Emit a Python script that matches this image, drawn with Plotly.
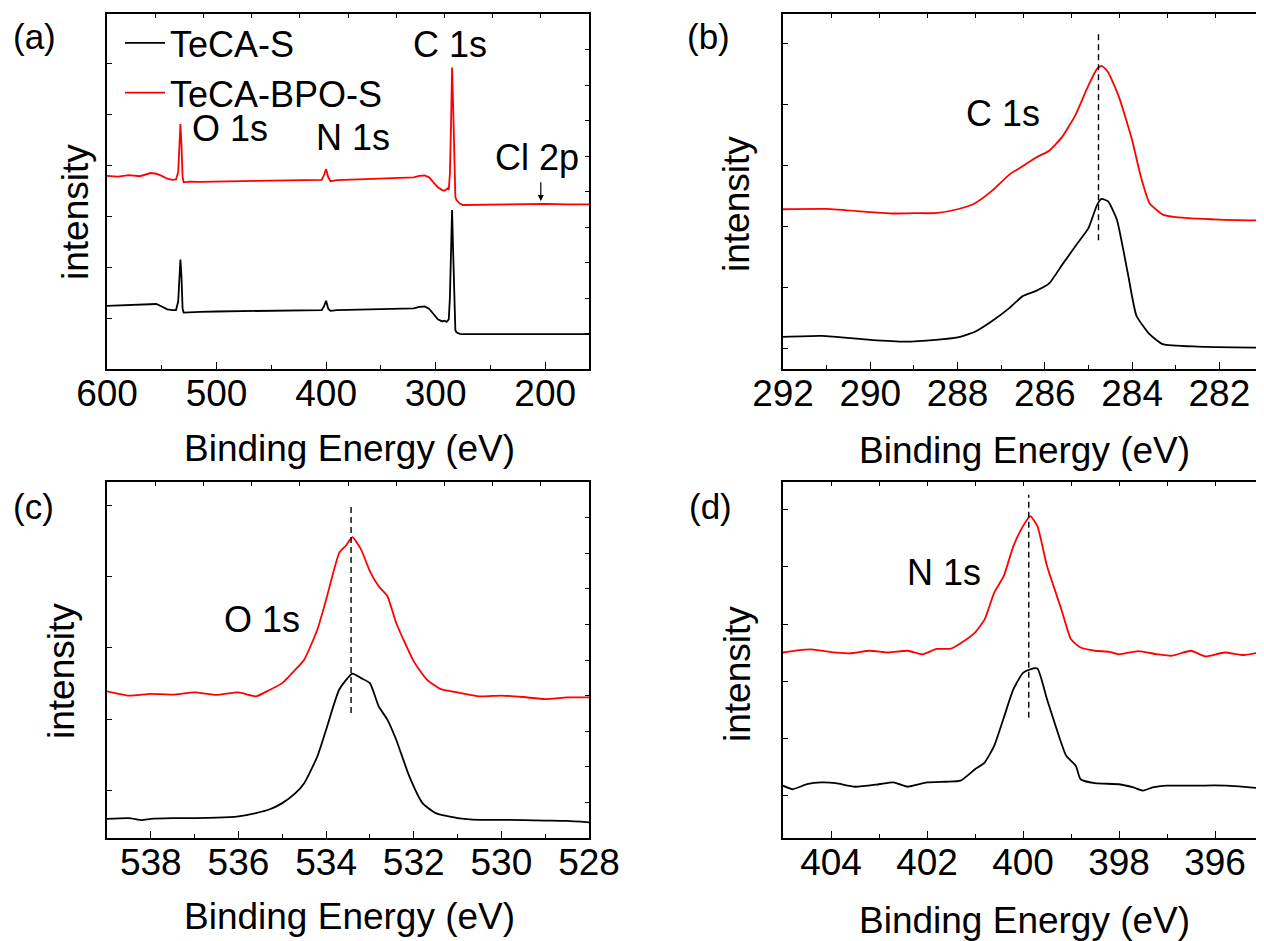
import plotly.graph_objects as go

# ---------------- data ----------------
# (a) survey spectra
a_x = [600, 590, 580, 570, 560, 555, 550, 545, 540, 537, 535, 534, 533, 532, 531, 530,
       525, 515, 500, 480, 460, 440, 420, 410, 404, 402, 400, 398, 396, 390, 370, 350,
       330, 320, 315, 310, 306, 302, 298, 294, 292, 290, 289, 288, 287, 286, 285, 284,
       283, 282, 281, 278, 275, 260, 240, 220, 200, 180, 160]
a_red = [54.4, 54.2, 54.6, 54.3, 55.2, 55.0, 54.4, 53.6, 53.3, 53.4, 55.5, 62.0, 69.0, 63.0, 54.0, 52.6,
         52.8, 52.7, 52.8, 52.9, 53.0, 53.2, 53.3, 53.4, 53.3, 54.5, 56.3, 54.0, 52.9, 53.2, 53.4, 53.6,
         53.8, 54.0, 54.4, 54.5, 54.0, 52.5, 51.2, 50.4, 50.2, 50.6, 50.9, 50.5, 55.0, 68.0, 84.9, 74.0,
         56.0, 48.5, 47.6, 46.6, 46.2, 46.3, 46.3, 46.4, 46.5, 46.4, 46.4]
a_black = [17.8, 17.9, 18.0, 18.2, 18.4, 18.3, 17.6, 16.8, 16.6, 16.6, 19.0, 25.0, 30.8, 26.0, 17.0, 15.9,
           16.0, 16.1, 16.2, 16.3, 16.4, 16.6, 16.7, 16.7, 16.6, 17.6, 19.2, 17.0, 16.4, 16.6, 16.7, 16.9,
           17.0, 17.1, 17.5, 17.6, 17.0, 15.5, 14.0, 13.4, 13.6, 13.3, 13.8, 14.0, 20.0, 34.0, 44.8, 33.0,
           17.0, 11.0, 10.3, 9.9, 9.85, 9.85, 9.85, 9.85, 9.85, 9.85, 9.85]

# (b) C 1s
b_x_red = [292, 291, 290, 289.5, 289, 288.5, 288, 287.6, 287.2, 286.8, 286.5, 286.2, 285.9, 285.6,
           285.3, 285.0, 284.8, 284.7, 284.55, 284.3, 284.0, 283.8, 283.6, 283.3, 283.0, 282.0, 281]
b_red = [45.0, 45.1, 44.2, 43.8, 43.9, 43.9, 45.0, 46.7, 50.3, 54.9, 57.2, 59.6, 61.5, 65.4,
         71.5, 79.9, 84.6, 85.4, 83.6, 76.6, 64.5, 54.2, 46.7, 43.5, 42.8, 42.1, 41.8]
b_x_black = [292, 291.1, 290, 289.2, 288.5, 288.0, 287.6, 287.2, 286.8, 286.5, 286.2, 285.9, 285.6,
             285.3, 285.0, 284.8, 284.7, 284.55, 284.35, 284.1, 283.9, 283.6, 283.3, 282.5, 281]
b_black = [9.07, 9.35, 8.2, 7.7, 8.2, 8.9, 10.5, 13.6, 17.3, 20.6, 22.0, 24.1, 29.4,
           34.6, 39.7, 46.3, 47.9, 47.2, 42.1, 27.1, 15.0, 9.8, 7.0, 6.3, 6.0]

# (c) O 1s
c_x_red = [539, 538.5, 538, 537.5, 537, 536.5, 536, 535.6, 535.4, 535.0, 534.7, 534.5, 534.2, 534.0,
           533.7, 533.55, 533.4, 533.2, 533.0, 532.8, 532.6, 532.4, 532.0, 531.7, 531.4, 531.0,
           530.5, 530, 529.5, 529, 528.5, 528]
c_red = [41.2, 40.0, 40.5, 40.3, 40.9, 40.2, 40.9, 39.8, 40.9, 43.5, 47.3, 50.1, 58.5, 66.9,
         80.1, 82.1, 84.5, 81.0, 74.9, 70.7, 67.9, 60.4, 49.6, 44.5, 41.9, 40.9,
         39.8, 40.0, 39.6, 39.0, 39.5, 39.5]
c_x_black = [539, 538.5, 538.2, 538, 537.5, 537, 536.5, 536, 535.6, 535.3, 535.0, 534.7, 534.5, 534.2,
             534.0, 533.7, 533.4, 533.2, 533.0, 532.8, 532.6, 532.4, 532.1, 531.8, 531.5, 531.0,
             530.5, 530, 529, 528.5, 528]
c_black = [5.4, 5.6, 5.0, 5.4, 5.6, 5.6, 5.7, 6.1, 7.0, 8.0, 9.8, 12.6, 15.4, 22.9,
           30.4, 41.7, 46.2, 44.9, 43.5, 37.0, 33.2, 27.6, 17.3, 9.8, 7.0, 5.6,
           5.1, 5.1, 4.9, 4.8, 4.4]

# (d) N 1s
d_x_red = [405, 404.7, 404.4, 404, 403.6, 403.2, 402.8, 402.4, 402.1, 401.8, 401.5, 401.3, 401.0,
           400.8, 400.6, 400.4, 400.2, 400.0, 399.85, 399.7, 399.5, 399.2, 399.0, 398.8, 398.5,
           398.2, 398.0, 397.6, 397.2, 396.9, 396.5, 396.2, 395.8, 395.4, 395]
d_red = [52.1, 52.7, 53.0, 52.2, 51.9, 52.6, 52.1, 52.6, 51.6, 53.1, 53.2, 54.7, 57.7,
         61.4, 68.9, 73.6, 82.0, 87.6, 90.4, 87.6, 76.4, 64.2, 55.8, 53.5, 52.6,
         52.3, 51.6, 52.5, 51.6, 51.2, 52.6, 51.0, 52.1, 51.4, 52.3]
d_x_black = [405, 404.8, 404.5, 404.2, 403.9, 403.5, 403.0, 402.7, 402.4, 402.0, 401.6, 401.3, 401.0,
             400.8, 400.6, 400.4, 400.2, 400.0, 399.85, 399.7, 399.5, 399.3, 399.1, 398.9, 398.8,
             398.5, 398.0, 397.7, 397.5, 397.3, 397.0, 396.5, 396.0, 395.5, 395.0]
d_black = [14.7, 13.7, 15.1, 15.6, 15.4, 14.4, 15.1, 15.6, 14.4, 15.6, 15.8, 16.1, 19.3,
           21.2, 25.9, 33.8, 41.8, 46.4, 47.4, 47.6, 39.0, 30.6, 23.1, 20.3, 16.5,
           15.4, 15.1, 14.2, 13.3, 14.2, 14.7, 14.7, 14.8, 14.5, 13.9]

# dashed peak markers: (x, y_bottom, y_top) per panel b, c, d
peak_b = [284.77, 36.3, 94.7]
peak_c = [533.43, 35.1, 94.1]
peak_d = [399.88, 33.8, 96.4]

series_names = ["TeCA-S", "TeCA-BPO-S"]
x_ranges = {"a": [600, 160], "b": [292, 281], "c": [539, 528], "d": [405, 395]}
x_dticks = {"a": 100, "b": 2, "c": 2, "d": 2}
x_minor = {"a": 50, "b": 1, "c": 1, "d": 1}
y_left_ticks = {"a": (14.1, 14.4), "b": (5.8, 17.2), "c": (13.4, 20), "d": (11.9, 16.06)}

# ---------------- figure ----------------
OFF = 8  # page body margin
W, H = 1264 - OFF, 941 - OFF
FONT = "Liberation Sans, Arial, sans-serif"
RED = "#ff0000"
BLACK = "#000000"


def px(x):
    return (x - OFF) / W


def py(y):
    return 1 - (y - OFF) / H


x_left = [px(107), px(589)]
x_right = [px(783), px(1263)]
y_top = [py(369), py(14)]
y_bot = [py(838), py(482)]

panels = {
    "a": dict(n=1, xd=x_left, yd=y_top),
    "b": dict(n=2, xd=x_right, yd=y_top),
    "c": dict(n=3, xd=x_left, yd=y_bot),
    "d": dict(n=4, xd=x_right, yd=y_bot),
}

fig = go.Figure()


def ax(n):
    return ("x" if n == 1 else f"x{n}"), ("y" if n == 1 else f"y{n}")


line_w = 1.8

# panel a
xa, ya = ax(1)
fig.add_trace(go.Scatter(x=a_x, y=a_black, mode="lines", name=series_names[0],
                         line=dict(color=BLACK, width=line_w), xaxis=xa, yaxis=ya))
fig.add_trace(go.Scatter(x=a_x, y=a_red, mode="lines", name=series_names[1],
                         line=dict(color=RED, width=line_w), xaxis=xa, yaxis=ya))

for key, xr, yr, xb, yb, pk in [
    ("b", b_x_red, b_red, b_x_black, b_black, peak_b),
    ("c", c_x_red, c_red, c_x_black, c_black, peak_c),
    ("d", d_x_red, d_red, d_x_black, d_black, peak_d),
]:
    xn, yn = ax(panels[key]["n"])
    fig.add_trace(go.Scatter(x=xb, y=yb, mode="lines", showlegend=False,
                             line=dict(color=BLACK, width=line_w, shape="spline", smoothing=0.5),
                             xaxis=xn, yaxis=yn))
    fig.add_trace(go.Scatter(x=xr, y=yr, mode="lines", showlegend=False,
                             line=dict(color=RED, width=line_w, shape="spline", smoothing=0.5),
                             xaxis=xn, yaxis=yn))
    fig.add_trace(go.Scatter(x=[pk[0], pk[0]], y=[pk[1], pk[2]], mode="lines", showlegend=False,
                             line=dict(color=BLACK, width=1.4, dash="6px,4px"), xaxis=xn, yaxis=yn))

layout = dict(
    width=W, height=H,
    margin=dict(l=0, r=0, t=0, b=0),
    paper_bgcolor="white", plot_bgcolor="white",
    font=dict(family=FONT, size=36, color="black"),
    showlegend=True,
    legend=dict(x=px(120), y=py(13), xanchor="left", yanchor="top",
                bgcolor="rgba(0,0,0,0)", font=dict(size=36, family=FONT),
                itemwidth=40, tracegroupgap=0),
)

axis_line = dict(showline=True, linecolor="black", linewidth=1.6, showgrid=False,
                 zeroline=False, automargin=False)

for key, p in panels.items():
    n = p["n"]
    xs = "xaxis" if n == 1 else f"xaxis{n}"
    ys = "yaxis" if n == 1 else f"yaxis{n}"
    xa_, ya_ = ax(n)
    rng = x_ranges[key]
    layout[xs] = dict(axis_line, domain=p["xd"], anchor=ya_, range=rng, ticks="inside",
                      ticklen=7, tickwidth=1.4, tickcolor="black", dtick=x_dticks[key],
                      tick0=0, tickfont=dict(size=37, family=FONT), ticklabelstandoff=-9,
                      minor=dict(ticks="inside", ticklen=4, tickwidth=1.4, tickcolor="black",
                                 dtick=x_minor[key], tick0=0),
                      mirror=True)
    t0, dt = y_left_ticks[key]
    layout[ys] = dict(axis_line, domain=p["yd"], anchor=xa_, range=[0, 100], ticks="inside",
                      ticklen=5, tickwidth=1.2, tickcolor="black", tick0=t0, dtick=dt,
                      showticklabels=False, mirror=True)
    # top and right tick overlays (ticks every tenth of the span)
    m = n + 4
    xs2, ys2 = f"xaxis{m}", f"yaxis{m}"
    span = abs(rng[1] - rng[0])
    layout[xs2] = dict(overlaying=xa_, side="top", anchor=ya_, range=rng, ticks="inside",
                       ticklen=4, tickwidth=1.2, tickcolor="black", tick0=rng[0], dtick=span / 10,
                       showticklabels=False, showgrid=False, zeroline=False, showline=False,
                       automargin=False)
    layout[ys2] = dict(overlaying=ya_, side="right", anchor=xa_, range=[0, 100], ticks="inside",
                       ticklen=4, tickwidth=1.2, tickcolor="black", tick0=0, dtick=10,
                       showticklabels=False, showgrid=False, zeroline=False, showline=False,
                       automargin=False)
    fig.add_trace(go.Scatter(x=[], y=[], xaxis=f"x{m}", yaxis=f"y{m}", showlegend=False,
                             hoverinfo="skip"))

fig.update_layout(**layout)

ann = []


def paper_text(text, x, y, size=36, angle=0):
    ann.append(dict(text=text, x=px(x), y=py(y), xref="paper", yref="paper", showarrow=False,
                    xanchor="center", yanchor="middle", textangle=angle,
                    font=dict(size=size, family=FONT, color="black")))


# panel labels
paper_text("(a)", 34, 37, 35)
paper_text("(b)", 708, 37, 35)
paper_text("(c)", 33, 506, 35)
paper_text("(d)", 710, 506, 35)
# axis titles
for cx, cy in [(349, 448), (1024, 450), (349, 916), (1024, 920)]:
    paper_text("Binding Energy (eV)", cx, cy, 37)
for cx, cy in [(75, 212), (737, 204), (61, 671), (737, 674)]:
    paper_text("intensity", cx, cy, 37, -90)


def data_text(text, x, y, n, size=36):
    xa_, ya_ = ax(n)
    ann.append(dict(text=text, x=x, y=y, xref=xa_, yref=ya_, showarrow=False,
                    xanchor="center", yanchor="middle",
                    font=dict(size=size, family=FONT, color="black")))


data_text("O 1s", 487.7, 67.8, 1)
data_text("N 1s", 375.4, 65.1, 1)
data_text("C 1s", 286.9, 91.5, 1)
data_text("Cl 2p", 207.5, 59.7, 1)
data_text("C 1s", 286.96, 72.0, 2)
data_text("O 1s", 535.47, 61.3, 3)
data_text("N 1s", 401.64, 74.5, 4)

# Cl 2p arrow
ann.append(dict(text="", x=204, y=47.3, ax=204, ay=53.0, xref="x", yref="y", axref="x", ayref="y",
                showarrow=True, arrowhead=2, arrowsize=1, arrowwidth=1.2, arrowcolor="black"))

fig.update_layout(annotations=ann)
fig.write_html("out.html")
